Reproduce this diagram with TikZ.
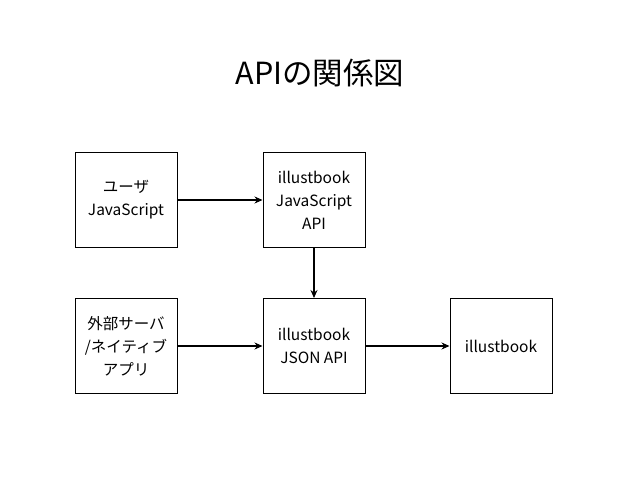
\documentclass[tikz,border=0pt]{standalone}
\usepackage{fontspec}
\setmainfont{Noto Sans CJK JP}
\usetikzlibrary{arrows.meta}

\tikzset{
  apibox/.style={draw, line width=1pt, minimum width=102pt, minimum height=95pt,
    align=center, font=\fontsize{15.5}{23}\selectfont},
  apiarrow/.style={line width=1.2pt, -{Stealth[length=8pt,width=7pt]}}
}

\begin{document}
\begin{tikzpicture}[x=1pt, y=-1pt]
  \useasboundingbox (0,0) rectangle (640,480);

  % Title
  \node[font=\fontsize{30.5}{32}\selectfont] (title) at (320,73) {APIの関係図};

  % Define the boxes
  \node[apibox] (userjs) at (126,200) {ユーザ\\JavaScript};
  \node[apibox] (jsapi) at (314,200) {illustbook\\JavaScript\\API};
  \node[apibox] (external) at (126,346) {外部サーバ\\/ネイティブ\\アプリ};
  \node[apibox] (jsonapi) at (314,346) {illustbook\\JSON API};
  \node[apibox] (illustbook) at (501,346) {illustbook};

  % Draw the arrows
  \draw[apiarrow] (userjs) -- (jsapi);
  \draw[apiarrow] (jsapi) -- (jsonapi);
  \draw[apiarrow] (external) -- (jsonapi);
  \draw[apiarrow] (jsonapi) -- (illustbook);

\end{tikzpicture}
\end{document}
